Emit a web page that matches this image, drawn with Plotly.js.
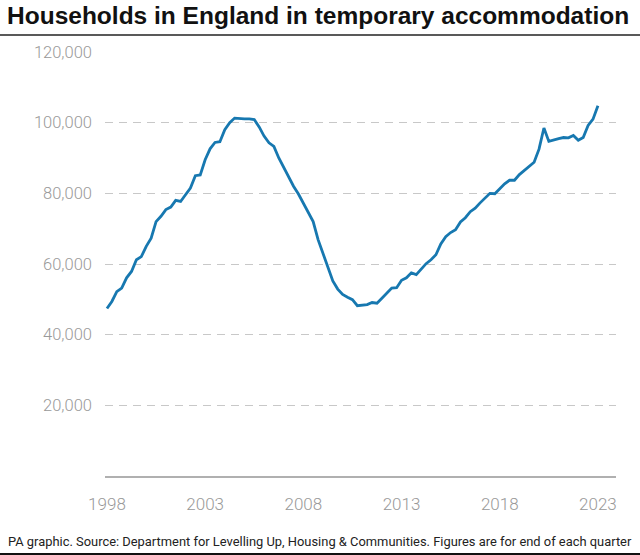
<!DOCTYPE html>
<html>
<head>
<meta charset="utf-8">
<script src="https://cdn.plot.ly/plotly-3.0.1.min.js"></script>
<style>html,body{margin:0;padding:0;background:#fff;}#chart{width:640px;height:555px;}</style>
</head>
<body>
<div id="chart"></div>
<script>
// Quarterly households in temporary accommodation (thousands), Q1 1998 .. Q1 2023
const startYear = 1998;
const values1998_2002 = [47.4, 49.4, 52.2, 53.2, 56.1, 57.9, 61.2, 62.1, 65.0, 67.3, 72.0, 73.5, 75.4, 76.1, 78.0, 77.7, 79.6, 81.5, 85.0, 85.2];
const values2003_2007 = [89.5, 92.6, 94.4, 94.6, 98.0, 100.0, 101.3, 101.1, 101.1, 101.1, 100.9, 98.8, 96.2, 94.3, 93.3, 90.0, 87.2, 84.8, 82.0, 79.8];
const values2008_2012 = [77.3, 74.4, 72.0, 66.9, 63.1, 59.0, 55.2, 52.9, 51.4, 50.6, 49.9, 48.2, 48.4, 48.5, 49.1, 48.9, 50.3, 51.8, 53.2, 53.3];
const values2013_2017 = [55.4, 56.1, 57.5, 57.0, 58.7, 60.1, 61.2, 62.6, 65.7, 67.7, 68.9, 69.7, 71.9, 73.1, 74.8, 75.8, 77.3, 78.6, 80.0, 79.9];
const values2018_2023 = [81.4, 82.7, 83.7, 83.7, 85.3, 86.5, 87.6, 88.8, 92.5, 98.5, 94.7, 95.2, 95.5, 95.8, 95.7, 96.4, 95.0, 95.8, 99.2, 101.0, 104.8];
const households = [].concat(values1998_2002, values2003_2007, values2008_2012, values2013_2017, values2018_2023).map(v => v * 1000);
const quarters = households.map((_, i) => startYear + i / 4);

const yTicks = [20000, 40000, 60000, 80000, 100000, 120000];
const yTickLabels = ["20,000", "40,000", "60,000", "80,000", "100,000", "120,000"];
const xTicks = [1998, 2003, 2008, 2013, 2018, 2023];
const xTickLabels = ["1998", "2003", "2008", "2013", "2018", "2023"];

const titleText = "Households in England in temporary accommodation";
const footerText = "PA graphic. Source: Department for Levelling Up, Housing &amp; Communities. Figures are for end of each quarter";

// plot area in pixels: left 105, right 616, top 52, bottom 476
const L = 105, R = 616, T = 52, B = 476;
const px = x => (x - L) / (R - L);
const py = y => (B - y) / (B - T);

const trace = {
  x: quarters, y: households, type: 'scatter', mode: 'lines',
  line: {color: '#1778b0', width: 2.8, shape: 'linear'},
  hoverinfo: 'skip'
};

const layout = {
  width: 640, height: 555,
  margin: {l: L, r: 640 - R, t: T, b: 555 - B, pad: 0},
  paper_bgcolor: '#ffffff', plot_bgcolor: '#ffffff',
  showlegend: false,
  font: {family: 'Roboto, "Liberation Sans", sans-serif', color: '#999999', size: 16},
  title: {
    text: titleText, xref: 'container', yref: 'container', x: 0.011, xanchor: 'left',
    y: 1 - 15 / 555, yanchor: 'middle',
    font: {family: '"Liberation Sans", Arial, sans-serif', size: 24.5, weight: 700, color: '#111111'}
  },
  xaxis: {
    range: [1997.9, 2023.92], tickvals: xTicks, ticktext: xTickLabels,
    showgrid: false, zeroline: false, showline: true, linecolor: '#b0b0b0', linewidth: 1.5,
    ticks: '', ticklabelstandoff: 12,
    tickfont: {family: 'Roboto, sans-serif', size: 17, weight: 300, color: '#999999'},
    fixedrange: true
  },
  yaxis: {
    range: [0, 120000], tickvals: yTicks, ticktext: yTickLabels,
    showgrid: true, gridcolor: '#c8c8c8', gridwidth: 1, griddash: '8px,6px',
    zeroline: false, showline: false, ticks: '', ticklabelstandoff: 12,
    tickfont: {family: 'Roboto, sans-serif', size: 16.5, weight: 300, color: '#999999'},
    fixedrange: true
  },
  shapes: [
    {type: 'line', xref: 'paper', yref: 'paper', x0: px(0), x1: px(640), y0: py(35), y1: py(35),
     line: {color: '#222222', width: 1.5}},
    {type: 'line', xref: 'paper', yref: 'paper', x0: px(0), x1: px(640), y0: py(554), y1: py(554),
     line: {color: '#111111', width: 2}}
  ],
  annotations: [
    {text: footerText, xref: 'paper', yref: 'paper', x: px(6), y: py(541), xanchor: 'left', yanchor: 'middle',
     showarrow: false, font: {family: 'Roboto, sans-serif', size: 12.9, color: '#222222'}}
  ]
};

Plotly.newPlot('chart', [trace], layout, {staticPlot: true, displayModeBar: false});
</script>
</body>
</html>
